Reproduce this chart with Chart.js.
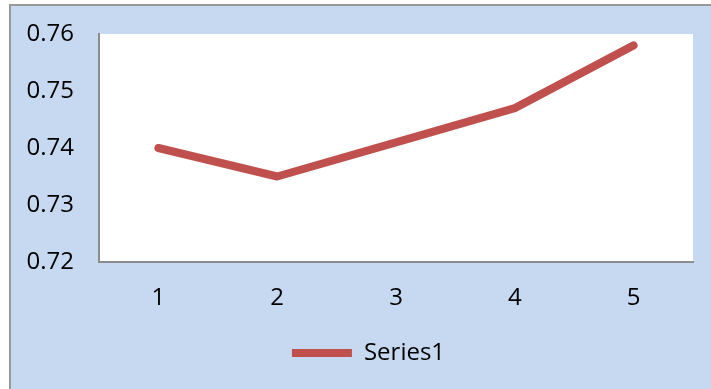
<!DOCTYPE html>
<html>
<head>
<meta charset="utf-8">
<script src="https://cdn.jsdelivr.net/npm/chart.js@4/dist/chart.umd.min.js"></script>
<style>
  body { margin: 0; background: #ffffff; }
  #contenedor { width: 711px; height: 389px; }
</style>
</head>
<body>
<div id="contenedor"><canvas id="myChart" width="711" height="389"></canvas></div>
<script>
// Datos del grafico
const categorias = ['1', '2', '3', '4', '5'];
const valoresSerie1 = [0.740, 0.735, 0.741, 0.747, 0.758];
const ticksY = [0.72, 0.73, 0.74, 0.75, 0.76];

const fuente = "'Open Sans', 'Liberation Sans', sans-serif";

// Fondo azul, borde exterior y area blanca del grafico
const fondoGrafico = {
  id: 'fondoGrafico',
  afterLayout(chart) {
    // mover la leyenda un poco a la derecha, como en el original
    chart.legend.left += 22;
    chart.legend.right += 22;
  },
  beforeDraw(chart) {
    const ctx = chart.ctx;
    const area = chart.chartArea;
    ctx.save();
    ctx.fillStyle = '#ffffff';
    ctx.fillRect(0, 0, chart.width, chart.height);
    ctx.fillStyle = '#c6d9f1';
    ctx.fillRect(10, 5, chart.width, chart.height);
    ctx.strokeStyle = '#999999';
    ctx.lineWidth = 2;
    ctx.beginPath();
    ctx.moveTo(10, chart.height);
    ctx.lineTo(10, 5);
    ctx.lineTo(chart.width, 5);
    ctx.stroke();
    ctx.fillStyle = '#ffffff';
    ctx.fillRect(area.left, area.top, area.width, area.height);
    ctx.restore();
  }
};

document.addEventListener("DOMContentLoaded", function () {
  chartSerie1();
});

function chartSerie1() {
  const ctx = document.getElementById('myChart');

  const data = {
    labels: categorias,
    datasets: [{
      label: 'Series1',
      data: valoresSerie1,
      borderColor: '#c0504d',
      backgroundColor: '#c0504d',
      borderWidth: 8,
      borderCapStyle: 'round',
      borderJoinStyle: 'round',
      pointRadius: 0,
      pointStyle: 'line',
      tension: 0,
      fill: false
    }]
  };

  const config = {
    type: 'line',
    data: data,
    plugins: [fondoGrafico],
    options: {
      responsive: false,
      animation: false,
      layout: {
        padding: { top: 34, right: 18, left: 0, bottom: 14 }
      },
      plugins: {
        tooltip: { enabled: false },
        legend: {
          position: 'bottom',
          labels: {
            usePointStyle: true,
            pointStyleWidth: 60,
            color: '#000000',
            font: { family: fuente, size: 24 },
            padding: 13
          }
        }
      },
      scales: {
        x: {
          offset: true,
          afterFit: function (scale) { scale.height = 66; },
          grid: { display: false, drawTicks: false },
          border: { display: true, color: '#8c8c8c', width: 2 },
          ticks: {
            color: '#000000',
            font: { family: fuente, size: 24 },
            padding: 22
          }
        },
        y: {
          min: ticksY[0],
          max: ticksY[ticksY.length - 1],
          afterFit: function (scale) {
            scale.width = 99;
            scale.paddingTop = 0;
            scale.paddingBottom = 0;
          },
          afterBuildTicks: function (scale) {
            scale.ticks = ticksY.map(v => ({ value: v }));
          },
          grid: { display: false, drawTicks: false },
          border: { display: true, color: '#8c8c8c', width: 2 },
          ticks: {
            color: '#000000',
            font: { family: fuente, size: 24 },
            padding: 25,
            callback: function (value) { return Number(value).toFixed(2); }
          }
        }
      }
    }
  };

  new Chart(ctx, config);
}
</script>
</body>
</html>
